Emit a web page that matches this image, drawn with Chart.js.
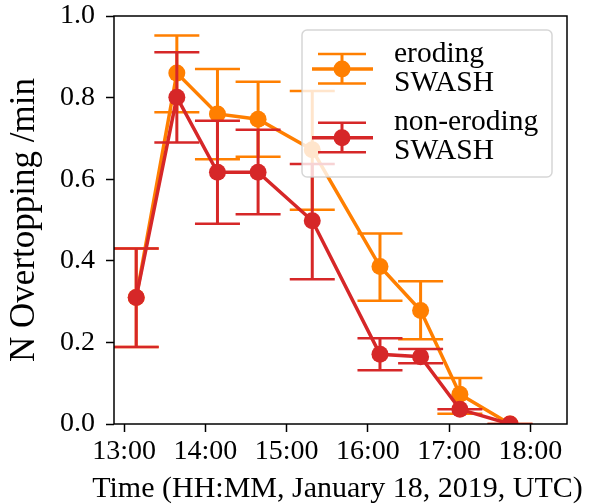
<!DOCTYPE html>
<html>
<head>
<meta charset="utf-8">
<script src="https://cdn.jsdelivr.net/npm/chart.js@4.4.0/dist/chart.umd.min.js"></script>
<style>
  html, body { margin: 0; padding: 0; background: #fff; }
</style>
</head>
<body>
<canvas id="chart" width="591" height="504"></canvas>
<script>
// sample times (UTC) and overtopping rates with lower / upper error limits
const sampleTimes = ['13:09', '13:39', '14:09', '14:39', '15:19', '16:09', '16:39', '17:08', '17:45'];

const erodingMean = [0.31, 0.86, 0.76, 0.747, 0.672, 0.386, 0.278, 0.073, 0.0];
const erodingLow  = [0.189, 0.764, 0.649, 0.655, 0.525, 0.302, 0.208, 0.025, 0.0];
const erodingHigh = [0.43, 0.952, 0.87, 0.839, 0.816, 0.467, 0.35, 0.113, 0.0];

const nonErodingMean = [0.31, 0.801, 0.617, 0.617, 0.498, 0.171, 0.165, 0.036, 0.0];
const nonErodingLow  = [0.189, 0.69, 0.491, 0.514, 0.355, 0.132, 0.149, 0.036, 0.0];
const nonErodingHigh = [0.43, 0.911, 0.743, 0.721, 0.637, 0.21, 0.184, 0.036, 0.0];

const xTickLabels = ['13:00', '14:00', '15:00', '16:00', '17:00', '18:00'];
const yTickValues = [0, 0.2, 0.4, 0.6, 0.8, 1.0];

const xTitle = 'Time (HH:MM, January 18, 2019, UTC)';

const ORANGE = '#ff7f00';
const RED = '#d62728';
const FONT = 'Liberation Serif';
const CAP = 22.5;

function toHours(hhmm) {
  const [h, m] = hhmm.split(':').map(Number);
  return h + m / 60;
}

function points(means) {
  return sampleTimes.map((t, i) => ({ x: toHours(t), y: means[i] }));
}

// vertical error bars with caps, drawn just under each series' line
const errorBars = {
  id: 'errorBars',
  beforeDatasetDraw(chart, args) {
    const ds = chart.data.datasets[args.index];
    const xs = chart.scales.x, ys = chart.scales.y;
    const ctx = chart.ctx;
    const a = chart.chartArea;
    ctx.save();
    ctx.beginPath();
    ctx.rect(a.left, a.top, a.right - a.left, a.bottom - a.top);
    ctx.clip();
    ctx.strokeStyle = ds.borderColor;
    ds.data.forEach((p, i) => {
      const px = xs.getPixelForValue(p.x);
      const top = ys.getPixelForValue(ds.errHigh[i]);
      const bot = ys.getPixelForValue(ds.errLow[i]);
      ctx.lineWidth = 3;
      ctx.beginPath();
      ctx.moveTo(px, top);
      ctx.lineTo(px, bot);
      ctx.stroke();
      ctx.lineWidth = 2.5;
      ctx.beginPath();
      ctx.moveTo(px - CAP, top); ctx.lineTo(px + CAP, top);
      ctx.moveTo(px - CAP, bot); ctx.lineTo(px + CAP, bot);
      ctx.stroke();
    });
    ctx.restore();
  }
};

// black box round the plot area, plus the x title (wider than the axis, so not the scale title)
const frame = {
  id: 'frame',
  afterDatasetsDraw(chart) {
    const a = chart.chartArea;
    const ctx = chart.ctx;
    ctx.save();
    ctx.strokeStyle = '#000';
    ctx.lineWidth = 1.5;
    ctx.strokeRect(a.left, a.top, a.right - a.left, a.bottom - a.top);

    ctx.fillStyle = '#000';
    ctx.font = '30px "' + FONT + '"';
    ctx.textAlign = 'center';
    ctx.textBaseline = 'alphabetic';
    ctx.fillText(xTitle, (a.left + a.right) / 2 - 3, 497);
    ctx.restore();
  }
};

// legend with errorbar handles and two-line labels
const errLegend = {
  id: 'errLegend',
  afterDraw(chart) {
    const ctx = chart.ctx;
    const bx = 302, by = 30, bw = 250, bh = 147;
    ctx.save();
    ctx.beginPath();
    ctx.roundRect(bx, by, bw, bh, 5);
    ctx.fillStyle = 'rgba(255,255,255,0.8)';
    ctx.fill();
    ctx.strokeStyle = 'rgba(204,204,204,0.8)';
    ctx.lineWidth = 1.5;
    ctx.stroke();

    const order = [1, 0];
    order.forEach((dsIndex, row) => {
      const ds = chart.data.datasets[dsIndex];
      const cy = 69 + row * 68.7;
      const cx = 342;
      ctx.strokeStyle = ds.borderColor;
      ctx.lineWidth = 3.5;
      ctx.beginPath();
      ctx.moveTo(312, cy); ctx.lineTo(373, cy);
      ctx.stroke();
      ctx.lineWidth = 3;
      ctx.beginPath();
      ctx.moveTo(cx, cy - 15); ctx.lineTo(cx, cy + 14.5);
      ctx.stroke();
      ctx.lineWidth = 2.5;
      ctx.beginPath();
      ctx.moveTo(cx - 24, cy - 15); ctx.lineTo(cx + 24, cy - 15);
      ctx.moveTo(cx - 24, cy + 14.5); ctx.lineTo(cx + 24, cy + 14.5);
      ctx.stroke();
      ctx.fillStyle = ds.backgroundColor;
      ctx.beginPath();
      ctx.arc(cx, cy, 8.5, 0, Math.PI * 2);
      ctx.fill();

      ctx.fillStyle = '#000';
      ctx.font = '29.5px "' + FONT + '"';
      ctx.textBaseline = 'alphabetic';
      ctx.textAlign = 'left';
      const lines = ds.label.split(' ');
      ctx.fillText(lines[0], 394, cy - 7.3);
      ctx.fillText(lines[1], 394, cy + 21.7);
    });
    ctx.restore();
  }
};

new Chart(document.getElementById('chart'), {
  type: 'scatter',
  data: {
    datasets: [
      {
        label: 'non-eroding SWASH',
        data: points(nonErodingMean),
        errLow: nonErodingLow,
        errHigh: nonErodingHigh,
        borderColor: RED,
        backgroundColor: RED,
        showLine: true,
        borderWidth: 3.5,
        pointRadius: 8.5,
        pointBorderWidth: 0,
        order: 1
      },
      {
        label: 'eroding SWASH',
        data: points(erodingMean),
        errLow: erodingLow,
        errHigh: erodingHigh,
        borderColor: ORANGE,
        backgroundColor: ORANGE,
        showLine: true,
        borderWidth: 3.5,
        pointRadius: 8.5,
        pointBorderWidth: 0,
        order: 2
      }
    ]
  },
  options: {
    responsive: false,
    animation: false,
    devicePixelRatio: 1,
    layout: { padding: { left: 0, right: 24, top: 16, bottom: 0 } },
    plugins: {
      legend: { display: false },
      tooltip: { enabled: false }
    },
    scales: {
      x: {
        type: 'linear',
        min: 12 + 52.6 / 60,
        max: 18 + 27.1 / 60,
        afterBuildTicks: s => { s.ticks = xTickLabels.map(l => ({ value: toHours(l) })); },
        afterFit: s => { s.height = 80; s.paddingLeft = 0; s.paddingRight = 0; },
        ticks: {
          color: '#000',
          font: { family: FONT, size: 28, lineHeight: 1 },
          padding: 6,
          maxRotation: 0,
          callback: (v, i) => xTickLabels[i]
        },
        grid: { display: true, drawOnChartArea: false, drawTicks: true, tickLength: 8, tickWidth: 1.5, tickColor: '#000' },
        border: { display: false },
        title: { display: false }
      },
      y: {
        type: 'linear',
        min: 0,
        max: 1,
        afterBuildTicks: s => { s.ticks = yTickValues.map(v => ({ value: v })); },
        afterFit: s => { s.width = 114; s.paddingTop = 0; s.paddingBottom = 0; },
        ticks: {
          color: '#000',
          font: { family: FONT, size: 28, lineHeight: 1 },
          padding: 11,
          callback: v => v.toFixed(1)
        },
        grid: { display: true, drawOnChartArea: false, drawTicks: true, tickLength: 8, tickWidth: 1.5, tickColor: '#000' },
        border: { display: false },
        title: {
          display: true,
          text: 'N Overtopping /min',
          color: '#000',
          font: { family: FONT, size: 35, lineHeight: 1.2 },
          padding: { top: 4, bottom: 0 }
        }
      }
    }
  },
  plugins: [errorBars, frame, errLegend]
});
</script>
</body>
</html>
